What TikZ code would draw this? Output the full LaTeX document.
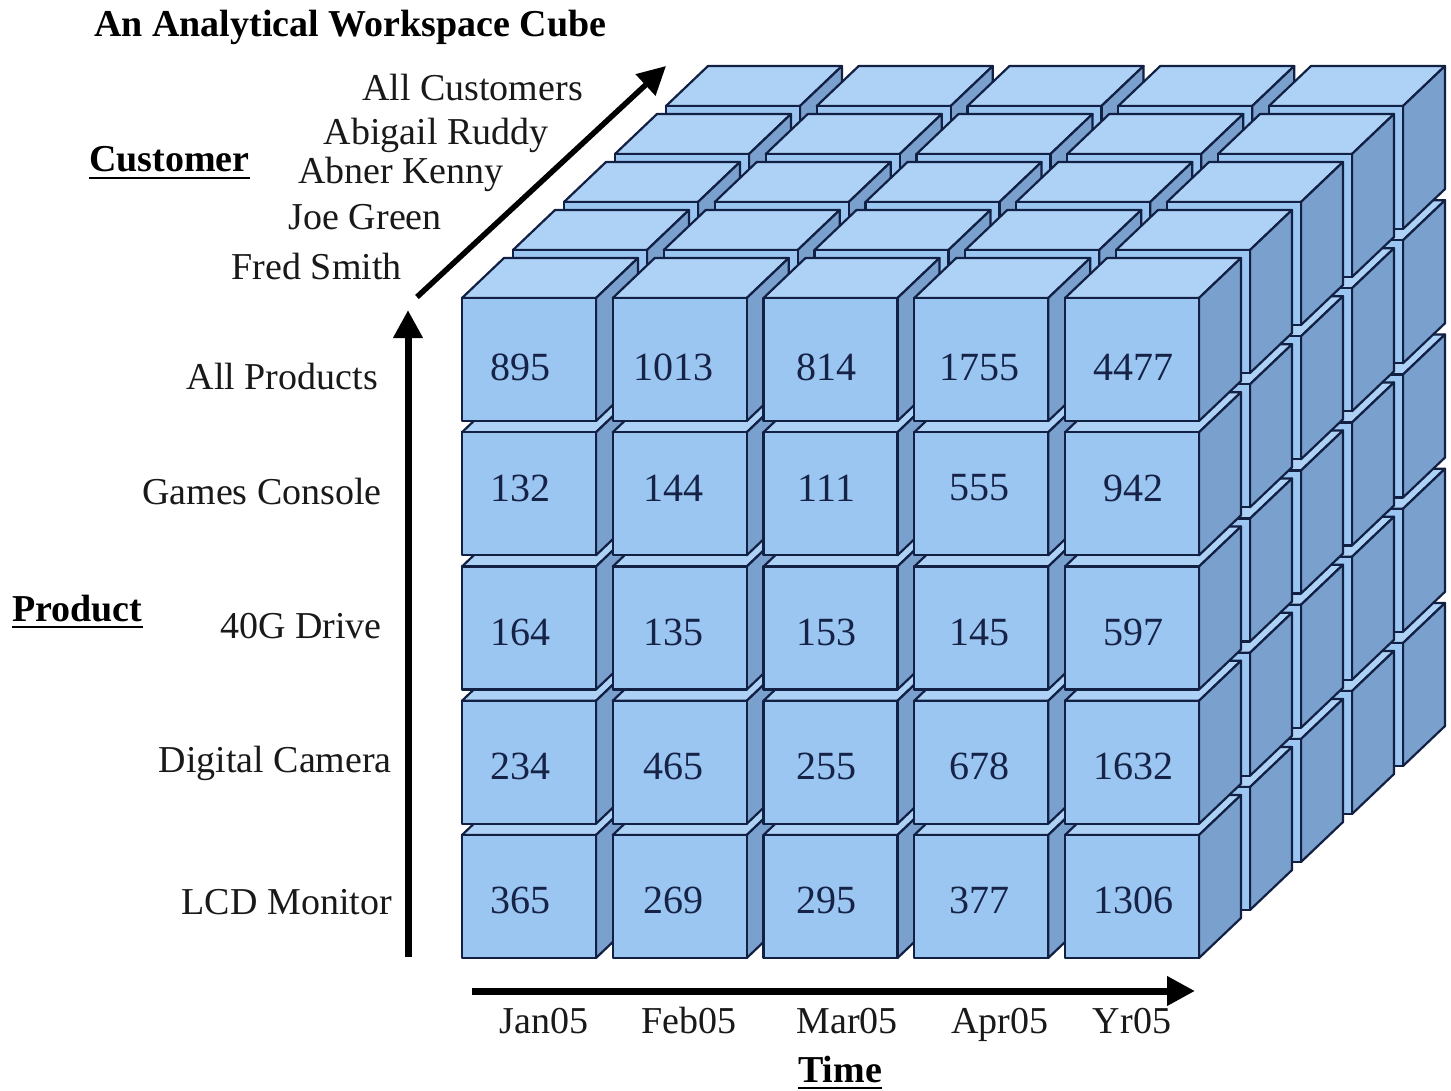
\documentclass[tikz,border=0pt]{standalone}
\usepackage{fontspec}
\setmainfont{Liberation Serif}
\usetikzlibrary{arrows.meta}
\definecolor{cfront}{RGB}{155,198,242}
\definecolor{ctop}{RGB}{174,210,246}
\definecolor{cside}{RGB}{122,160,206}
\definecolor{cedge}{RGB}{18,32,68}
\definecolor{cnum}{RGB}{22,34,70}
\definecolor{clbl}{RGB}{25,25,25}
\tikzset{
  cubefront/.style={fill=cfront,draw=cedge,line width=2.2pt,line join=round},
  cubetop/.style={fill=ctop,draw=cedge,line width=2.2pt,line join=round},
  cubeside/.style={fill=cside,draw=cedge,line width=2.2pt,line join=round},
  lbl/.style={inner sep=0pt,text=clbl,font=\fontsize{38}{40}\selectfont},
  hdr/.style={inner sep=0pt,text=black,font=\fontsize{38}{40}\selectfont\bfseries},
  numlbl/.style={inner sep=0pt,text=cnum,font=\fontsize{40}{42}\selectfont},
  axisarrow/.style={line width=7pt,-{Triangle[length=28pt,width=28pt]}},
  ulline/.style={line width=2pt,black}
}
\begin{document}
\begin{tikzpicture}[x=1pt,y=-1pt]
\useasboundingbox (0,0) rectangle (1451,1091);
\fill[white] (0,0) rectangle (1451,1091);
% cubes, painted back to front
\foreach \k in {4,3,2,1,0} {
  \foreach \r in {4,3,2,1,0} {
    \foreach \c in {0,1,2,3,4} {
      \pgfmathsetmacro\X{462+150.75*\c+51*\k}
      \pgfmathsetmacro\Y{298+134.25*\r-48*\k}
      \draw[cubetop] (\X,\Y) -- (\X+42,\Y-40) -- (\X+176,\Y-40) -- (\X+134,\Y) -- cycle;
      \draw[cubeside] (\X+134,\Y) -- (\X+176,\Y-40) -- (\X+176,\Y+83) -- (\X+134,\Y+123) -- cycle;
      \draw[cubefront] (\X,\Y) rectangle (\X+134,\Y+123);
    }
  }
}
% values on the front layer
\foreach \row/\ny [count=\r from 0] in {{895,1013,814,1755,4477}/367,{132,144,111,555,942}/488,{164,135,153,145,597}/632,{234,465,255,678,1632}/766,{365,269,295,377,1306}/900} {
  \foreach \v [count=\c from 0] in \row {
    \pgfmathsetmacro\X{520+153.25*\c}
    \node[numlbl] (v\r\c) at (\X,\ny) {\v};
  }
}
% title
\node[hdr,anchor=base west] (title) at (94,37) {An Analytical Workspace Cube};
% customer axis
\node[hdr,anchor=base west] (customer) at (89,172) {Customer};
\draw[ulline] ([yshift=-6pt]customer.base west) -- ([yshift=-6pt]customer.base east);
\node[lbl,anchor=base east] (allcust) at (583,101) {All Customers};
\node[lbl,anchor=base east] (abigail) at (549,145) {Abigail Ruddy};
\node[lbl,anchor=base east] (abner) at (504,184) {Abner Kenny};
\node[lbl,anchor=base east] (joe) at (442,230) {Joe Green};
\node[lbl,anchor=base east] (fred) at (402,280) {Fred Smith};
\coordinate (c0) at (417,297);
\coordinate (c1) at (666,66);
\draw[axisarrow,line width=5.5pt] (c0) -- (c1);
% product axis
\node[hdr,anchor=base west] (product) at (12,621) {Product};
\draw[ulline] ([yshift=-6pt]product.base west) -- ([yshift=-6pt]product.base east);
\node[lbl,anchor=base east] (allprod) at (378,389) {All Products};
\node[lbl,anchor=base east] (games) at (382,504) {Games Console};
\node[lbl,anchor=base east] (drive) at (382,638) {40G Drive};
\node[lbl,anchor=base east] (camera) at (392,772) {Digital Camera};
\node[lbl,anchor=base east] (lcd) at (392,914) {LCD Monitor};
\coordinate (p0) at (408,957);
\coordinate (p1) at (408,310);
\draw[axisarrow] (p0) -- (p1);
% time axis
\coordinate (t0) at (472,991);
\coordinate (t1) at (1195,991);
\draw[axisarrow] (t0) -- (t1);
\node[lbl,anchor=base] (jan) at (544,1033) {Jan05};
\node[lbl,anchor=base] (feb) at (689,1033) {Feb05};
\node[lbl,anchor=base] (mar) at (847,1033) {Mar05};
\node[lbl,anchor=base] (apr) at (1000,1033) {Apr05};
\node[lbl,anchor=base] (yr) at (1132,1033) {Yr05};
\node[hdr,anchor=base] (time) at (840,1082) {Time};
\draw[ulline] ([yshift=-6pt]time.base west) -- ([yshift=-6pt]time.base east);
\end{tikzpicture}
\end{document}
